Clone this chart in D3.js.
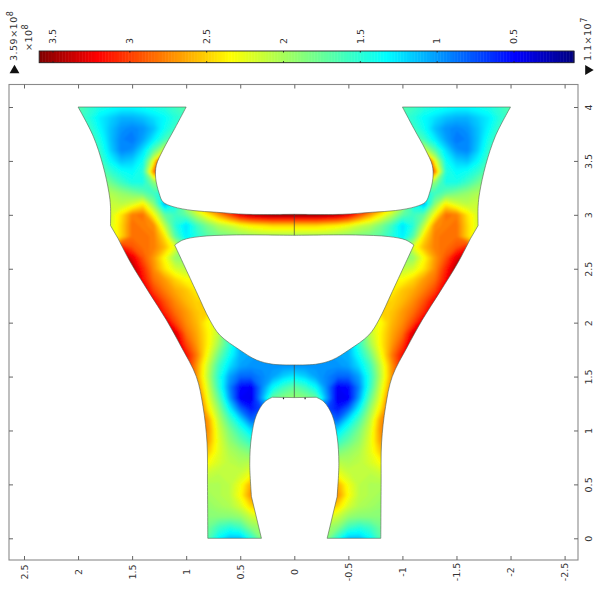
<!DOCTYPE html>
<html><head><meta charset="utf-8">
<script src="https://cdn.jsdelivr.net/npm/d3@7"></script>
<style>html,body{margin:0;padding:0;background:#fff}svg{display:block}</style>
</head><body><svg id="c" width="600" height="600"></svg>
<script>
const _ = null;
// tick labels
const xTicks = [2.5,2,1.5,1,0.5,0,-0.5,-1,-1.5,-2,-2.5];
const yTicks = [0,0.5,1,1.5,2,2.5,3,3.5,4];
const barTicks = [3.5,3,2.5,2,1.5,1,0.5];
const barMin = 0.11, barMax = 3.59;
// colour map: value (x10^8) -> colour
const colourValues = [0.11,0.49,1.33,1.85,2.34,3.21,3.59];
const colourNames = ["#00007f","#0000ff","#00ffff","#80ff80","#ffff00","#ff0000","#7f0000"];
// half outline of the part (x>=0): smooth runs between corners
const outerRuns = [
 [[0,1.305],[0.202,1.308]],
 [[0.202,1.308],[0.273,1.267],[0.35,1.144],[0.396,0.943],[0.412,0.696],[0.396,0.386]],
 [[0.396,0.386],[0.304,0]],
 [[0.304,0],[0.8,0]],
 [[0.8,0],[0.803,0.5],[0.807,0.884],[0.844,1.22],[0.906,1.5],[1.045,1.775],[1.183,2.025],[1.35,2.29],[1.51,2.55],[1.63,2.78]],
 [[1.63,2.78],[1.70,2.90]],
 [[1.70,2.90],[1.70,3.08],[1.715,3.21],[1.77,3.46],[1.86,3.73],[2.0,4]],
 [[2.0,4],[1.0,4]],
 [[1.0,4],[1.106,3.8],[1.215,3.6],[1.276,3.46],[1.282,3.34],[1.25,3.2],[1.215,3.12],[1.122,3.076],[0.937,3.04],[0.72,3.024],[0.443,3.005],[0,3.005]]
];
const holeRuns = [
 [[0,2.81],[0.567,2.813],[0.875,2.798],[1.03,2.767],[1.106,2.72]],
 [[1.106,2.72],[0.906,2.288],[0.782,2.025],[0.69,1.886],[0.505,1.747],[0.35,1.654],[0.196,1.614],[0,1.608]]
];
const midLineY = [[1.305,1.608],[2.81,3.005]];
const slotMarks = [0.1,-0.1];
// stress field, x = 0..2.1 step .1, y = 0..4 step .1 (mirrored about x=0)
const fieldX = [0,0.1,0.2,0.3,0.4,0.5,0.6,0.7,0.8,0.9,1.0,1.1,1.2,1.3,1.4,1.5,1.6,1.7,1.8,1.9,2.0,2.1];
const fieldY = [0,0.1,0.2,0.3,0.4,0.5,0.6,0.7,0.8,0.9,1.0,1.1,1.2,1.3,1.4,1.5,1.6,1.7,1.8,1.9,2.0,2.1,2.2,2.3,2.4,2.5,2.6,2.7,2.8,2.9,3.0,3.1,3.2,3.3,3.4,3.5,3.6,3.7,3.8,3.9,4.0];
const fieldRows = [
[_,_,2.0,1.9,1.5,1.15,1.15,1.35,1.7,1.8],
[_,_,_,2.0,1.9,1.6,1.5,1.6,1.8,1.85],
[_,_,_,2.3,2.15,1.95,1.9,1.9,1.9,1.95],
[_,_,_,2.7,2.5,2.2,2.05,2.0,1.95,2.0],
[_,_,_,3.0,2.75,2.35,2.1,2.05,2.0,2.0],
[_,_,_,2.8,2.65,2.3,2.1,2.05,2.05,2.1],
[_,_,_,2.4,2.3,2.15,2.1,2.1,2.15,2.2],
[_,_,_,2.1,2.1,2.05,2.1,2.2,2.35,2.5],
[_,_,_,1.8,1.85,1.95,2.05,2.25,2.55,2.8],
[_,_,_,1.4,1.55,1.75,1.95,2.25,2.7,2.95],
[_,_,_,1.2,1.25,1.55,1.85,2.2,2.75,2.9],
[_,_,_,0.9,0.85,1.25,1.65,2.1,2.7,3.0],
[_,_,1.0,0.75,0.6,0.85,1.35,1.95,2.45,3.1,3.3],
[1.95,1.9,1.75,1.05,0.45,0.5,1.05,1.75,2.3,3.0,3.4],
[1.75,1.6,1.35,0.95,0.5,0.55,0.95,1.55,2.2,2.8,3.3],
[1.3,1.2,1.05,0.95,0.85,0.85,1.05,1.5,2.1,2.7,3.3],
[1.0,1.0,1.0,1.0,1.0,1.05,1.25,1.6,2.15,2.7,3.2,3.4],
[_,_,_,1.0,1.05,1.1,1.4,1.8,2.3,2.8,3.2,3.5],
[_,_,_,_,_,1.1,1.55,2.0,2.4,2.7,3.0,3.5],
[_,_,_,_,_,_,1.5,2.1,2.4,2.65,2.85,3.35,3.6],
[_,_,_,_,_,_,_,2.2,2.35,2.6,2.75,3.0,3.4],
[_,_,_,_,_,_,_,_,2.5,2.55,2.7,2.85,3.1,3.5],
[_,_,_,_,_,_,_,_,2.5,2.5,2.6,2.75,2.95,3.25,3.6],
[_,_,_,_,_,_,_,_,_,2.4,2.55,2.65,2.8,3.0,3.4],
[_,_,_,_,_,_,_,_,_,_,2.35,2.5,2.7,2.85,3.2,3.6],
[_,_,_,_,_,_,_,_,_,_,2.1,2.2,2.45,2.75,3.1,3.5,3.6],
[_,_,_,_,_,_,_,_,_,_,1.9,1.95,2.35,2.7,2.95,3.3,3.6],
[_,_,_,_,_,_,_,_,_,_,_,2.25,2.6,2.8,2.85,2.95,3.15],
[2.0,2.0,2.0,2.0,1.95,1.9,1.85,1.8,1.7,1.5,1.3,1.7,2.45,2.8,2.85,2.85,2.5,2.2],
[2.5,2.5,2.5,2.45,2.4,2.3,2.15,2.05,1.85,1.6,1.25,1.5,2.1,2.75,2.8,2.85,2.5,2.2],
[3.55,3.55,3.55,3.5,3.45,3.3,3.0,2.7,2.4,2.1,1.75,1.6,1.75,2.35,2.85,2.8,2.45,2.2],
[_,_,_,_,_,_,_,3.4,3.0,2.6,2.1,1.4,1.1,1.9,2.4,2.2,2.1,2.15],
[_,_,_,_,_,_,_,_,_,_,_,_,1.4,1.6,1.75,1.85,1.95,2.05],
[_,_,_,_,_,_,_,_,_,_,_,_,2.1,1.9,1.45,1.45,1.6,1.8,2.0],
[_,_,_,_,_,_,_,_,_,_,_,_,4.2,2.8,1.5,1.35,1.4,1.55,1.8],
[_,_,_,_,_,_,_,_,_,_,_,_,3.8,2.3,1.4,1.2,1.15,1.35,1.65],
[_,_,_,_,_,_,_,_,_,_,_,_,2.2,1.7,1.25,1.0,0.95,1.2,1.55,1.75],
[_,_,_,_,_,_,_,_,_,_,_,1.85,1.6,1.3,1.05,0.9,0.95,1.15,1.45,1.7],
[_,_,_,_,_,_,_,_,_,_,_,1.6,1.4,1.15,1.0,0.95,1.0,1.15,1.35,1.6,1.7],
[_,_,_,_,_,_,_,_,_,_,1.6,1.5,1.35,1.25,1.15,1.1,1.1,1.2,1.3,1.5,1.65],
[_,_,_,_,_,_,_,_,_,_,1.7,1.6,1.5,1.45,1.4,1.35,1.35,1.4,1.45,1.55,1.7]
];

const svg = d3.select("#c");
const font = "'DejaVu Sans',sans-serif";
const x = d3.scaleLinear().domain([2.5,-2.5]).range([24,564.6]);
const y = d3.scaleLinear().domain([0,4]).range([538.3,107]);
const bar = d3.scaleLinear().domain([3.5,0.5]).range([53,514]);
const colour = d3.scaleLinear().domain(colourValues).range(colourNames).clamp(true);
const frame = {l:9,r:578,t:84.5,b:560};

// mirrored field
const nHalf = fieldX.length, nx = 2*nHalf-1, ny = fieldY.length;
let grid = new Array(nx*ny).fill(null);
fieldRows.forEach((r,j)=>{ for(let i=0;i<nHalf;i++){ const v = r[i]==null?null:r[i];
  grid[j*nx+nHalf-1+i]=v; grid[j*nx+nHalf-1-i]=v; }});
// cells outside the part only need to carry the edge value on under the clip
for(let it=0;it<6;it++){ const g=grid.slice();
  for(let j=0;j<ny;j++)for(let i=0;i<nx;i++){ if(grid[j*nx+i]!=null)continue;
    let s=0,c=0; [[1,0],[-1,0],[0,1],[0,-1]].forEach(([a,b])=>{const I=i+a,J=j+b;
      if(I>=0&&I<nx&&J>=0&&J<ny&&grid[J*nx+I]!=null){s+=grid[J*nx+I];c++;}});
    if(c)g[j*nx+i]=s/c; }
  grid=g; }
grid=grid.map(v=>v==null?2:v);

const thresholds = d3.range(0.1,3.65,0.04);
const cgen = d3.contours().size([nx,ny]).thresholds(thresholds);
const gx = d3.scaleLinear().domain([0.5,nx-0.5]).range([x(fieldX[nHalf-1]),x(-fieldX[nHalf-1])]);
const gy = d3.scaleLinear().domain([0.5,ny-0.5]).range([y(fieldY[0]),y(fieldY[ny-1])]);
const cpath = d3.geoPath(d3.geoTransform({point(a,b){this.stream.point(gx(a),gy(b));}}));

const line = d3.line().x(d=>x(d[0])).y(d=>y(d[1]));
const smooth = d3.line().x(d=>x(d[0])).y(d=>y(d[1])).curve(d3.curveCatmullRom.alpha(0.5));
// closed ring from runs on x>=0 followed by their mirror image
const ring = runs=>{
  const mirror = runs.map(r=>r.map(p=>[-p[0],p[1]]).reverse()).reverse();
  return runs.concat(mirror).map((r,i)=>{const s=smooth(r);return i?"L"+s.slice(1):s;}).join("")+"Z";
};
const shape = ring(outerRuns)+ring(holeRuns);

const defs = svg.append("defs");
defs.append("clipPath").attr("id","part").append("path").attr("d",shape).attr("clip-rule","evenodd");
defs.append("filter").attr("id","soft").append("feGaussianBlur").attr("stdDeviation",0.9);

const plot = svg.append("g").attr("clip-path","url(#part)");
plot.append("g").attr("filter","url(#soft)").selectAll("path").data(cgen(grid)).join("path")
  .attr("d",cpath).attr("fill",d=>colour(d.value));

svg.append("path").attr("d",shape).attr("fill","none").attr("stroke","#4f5f50").attr("stroke-width",0.7).attr("stroke-opacity",0.85);
midLineY.forEach(s=>svg.append("path").attr("d",line([[0,s[0]],[0,s[1]]])).attr("stroke","#444").attr("stroke-width",0.7).attr("fill","none"));
slotMarks.forEach(m=>svg.append("path").attr("d",line([[m,1.29],[m,1.305]])).attr("stroke","#222").attr("stroke-width",1.2));

// frame and axes
svg.append("rect").attr("x",frame.l).attr("y",frame.t).attr("width",frame.r-frame.l).attr("height",frame.b-frame.t)
  .attr("fill","none").attr("stroke","#8a8a8a").attr("stroke-width",1.1);
const styleAxis = g=>{g.select(".domain").remove();g.selectAll("line").attr("stroke","#666");
  g.selectAll("text").attr("font-family",font).attr("font-size",9.5).attr("fill","#333");};
const plain = d=>String(d);
svg.append("g").attr("transform",`translate(0,${frame.b})`)
  .call(d3.axisBottom(x).tickValues(xTicks).tickSizeInner(-4).tickFormat(plain))
  .call(styleAxis)
  .call(g=>g.selectAll("text").attr("transform","rotate(-90)").attr("text-anchor","middle").attr("x",-12).attr("y",0).attr("dy","0.34em"));
svg.append("g").attr("transform",`translate(0,${frame.t})`)
  .call(d3.axisTop(x).tickValues(xTicks).tickSizeInner(-4).tickFormat("")).call(styleAxis);
svg.append("g").attr("transform",`translate(${frame.l},0)`)
  .call(d3.axisLeft(y).tickValues(yTicks).tickSizeInner(-4).tickFormat("")).call(styleAxis);
svg.append("g").attr("transform",`translate(${frame.r},0)`)
  .call(d3.axisRight(y).tickValues(yTicks).tickSizeInner(-4).tickFormat(plain))
  .call(styleAxis)
  .call(g=>g.selectAll("text").attr("transform","rotate(-90)").attr("text-anchor","middle").attr("x",0).attr("y",11).attr("dy","0.34em"));

// colour bar
const barY0=51, barH=11.7;
const barX = d3.scaleLinear().domain([barMax,barMin]).range([bar(barMax),bar(barMin)]);
const barSteps = d3.range(barMin,barMax,0.01);
svg.append("g").selectAll("rect").data(barSteps).join("rect")
  .attr("x",d=>barX(d+0.01)).attr("width",d=>barX(d)-barX(d+0.01)+0.5)
  .attr("y",barY0).attr("height",barH).attr("fill",d=>colour(d));
svg.append("rect").attr("x",barX(barMax)).attr("y",barY0).attr("width",barX(barMin)-barX(barMax)).attr("height",barH)
  .attr("fill","none").attr("stroke","#222").attr("stroke-width",0.9);
const bt = svg.append("g").selectAll("g").data(barTicks).join("g");
bt.append("path").attr("d",d=>`M${bar(d)},${barY0}v1.5M${bar(d)},${barY0+barH}v-1.5`).attr("stroke","#222");
bt.append("text").attr("transform",d=>`translate(${bar(d)},44) rotate(-90)`).attr("dy","0.34em")
  .attr("font-family",font).attr("font-size",9.5).attr("fill","#333").text(d=>d);

const sup=(px,py,base,exp)=>{const t=svg.append("text").attr("transform",`translate(${px},${py}) rotate(-90)`)
  .attr("font-family",font).attr("font-size",9.5).attr("fill","#333").attr("dy","0.34em").attr("letter-spacing",0.5);
  t.append("tspan").text(base);t.append("tspan").attr("dy",-4).attr("font-size",8).text(exp);};
sup(14,61,"3.59×10","8");
sup(28.5,51,"×10","8");
sup(588,61,"1.1×10","7");
svg.append("path").attr("d",d3.symbol(d3.symbolTriangle,42)()).attr("transform","translate(14.5,70.5)").attr("fill","#111");
svg.append("path").attr("d",d3.symbol(d3.symbolTriangle,42)()).attr("transform","translate(588,70) rotate(90)").attr("fill","#111");
</script></body></html>
